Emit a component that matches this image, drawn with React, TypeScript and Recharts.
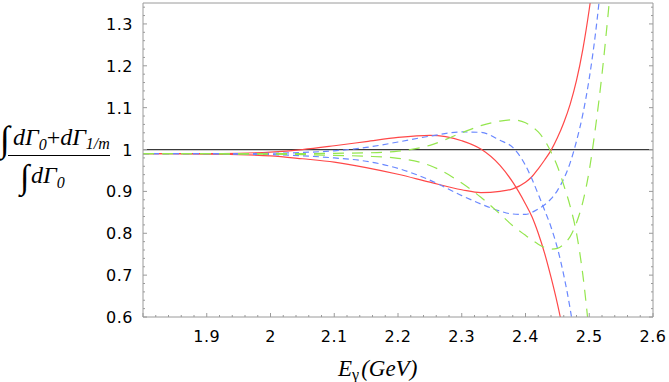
import React from 'react';
import { LineChart, Line, XAxis, YAxis, ReferenceLine } from 'recharts';

// x grid (E_gamma, GeV)
const xs = [1.80, 1.85, 1.90, 1.95, 2.00, 2.05, 2.10, 2.15, 2.20, 2.25, 2.30, 2.33, 2.36, 2.38, 2.40, 2.41, 2.42, 2.43, 2.44, 2.45, 2.46, 2.47, 2.48, 2.49, 2.50, 2.51, 2.52, 2.53, 2.54];

const redUpper = [0.990, 0.990, 0.990, 0.991, 0.994, 1.000, 1.009, 1.019, 1.029, 1.034, 1.021, 1.001, 0.962, 0.922, 0.870, 0.840, 0.800, 0.752, 0.695, 0.632, 0.560, null, null, null, null, null, null, null, null];
const redLower = [0.990, 0.990, 0.989, 0.988, 0.985, 0.978, 0.970, 0.957, 0.941, 0.922, 0.904, 0.897, 0.900, 0.906, 0.922, 0.935, 0.954, 0.975, 0.998, 1.028, 1.064, 1.108, 1.165, 1.240, 1.335, 1.450, null, null, null];
const blueUpper = [0.990, 0.990, 0.990, 0.990, 0.991, 0.993, 0.997, 1.005, 1.018, 1.032, 1.042, 1.041, 1.022, 1.005, 0.962, 0.930, 0.893, 0.855, 0.815, 0.765, 0.700, 0.620, 0.520, null, null, null, null, null, null];
const blueLower = [0.990, 0.990, 0.990, 0.989, 0.988, 0.985, 0.980, 0.972, 0.955, 0.927, 0.890, 0.870, 0.853, 0.846, 0.845, 0.850, 0.858, 0.868, 0.882, 0.902, 0.930, 0.968, 1.020, 1.085, 1.170, 1.280, 1.420, null, null];
const greenUpper = [0.990, 0.990, 0.990, 0.990, 0.990, 0.990, 0.991, 0.992, 0.996, 1.010, 1.040, 1.057, 1.068, 1.071, 1.064, 1.055, 1.042, 1.022, 0.994, 0.960, 0.915, 0.865, 0.800, 0.700, 0.560, null, null, null, null];
const greenLower = [0.990, 0.990, 0.990, 0.989, 0.989, 0.988, 0.986, 0.984, 0.979, 0.962, 0.920, 0.886, 0.846, 0.818, 0.795, 0.784, 0.774, 0.766, 0.762, 0.764, 0.774, 0.792, 0.825, 0.875, 0.950, 1.055, 1.180, 1.330, 1.500];

const xMajorTicks = [1.8, 1.9, 2.0, 2.1, 2.2, 2.3, 2.4, 2.5, 2.6];
const xTickLabels = ['', '1.9', '2', '2.1', '2.2', '2.3', '2.4', '2.5', '2.6'];
const yMajorTicks = [0.6, 0.7, 0.8, 0.9, 1.0, 1.1, 1.2, 1.3];
const yTickLabels = ['0.6', '0.7', '0.8', '0.9', '1', '1.1', '1.2', '1.3'];

const X_DOMAIN: [number, number] = [1.8, 2.6];
const Y_DOMAIN: [number, number] = [0.6, 1.35];

const xAllTicks: number[] = [];
for (let i = 0; i <= 40; i++) xAllTicks.push(Math.round((1.8 + i * 0.02) * 100) / 100);
const yAllTicks: number[] = [];
for (let i = 0; i <= 37; i++) yAllTicks.push(Math.round((0.6 + i * 0.02) * 100) / 100);

const toPoints = (ys: (number | null)[]) => xs.map((x, i) => ({ x, y: ys[i] }));

const FRAME = '#9a9a9a';
const MAJOR = 4;
const MINOR = 2;
const TICK_FONT = '"DejaVu Sans", Verdana, sans-serif';

const majorIndex = (v: number, majors: number[]) => majors.findIndex((m) => Math.abs(m - v) < 1e-6);

const BottomTick = (props: any) => {
  const { x, y, payload } = props;
  const idx = majorIndex(payload.value, xMajorTicks);
  const len = idx >= 0 ? MAJOR : MINOR;
  return (
    <g>
      <line x1={x} x2={x} y1={y} y2={y - len} stroke={FRAME} strokeWidth={1} />
      {idx >= 0 && xTickLabels[idx] !== '' && (
        <text x={x} y={y + 25} textAnchor="middle" fontFamily={TICK_FONT} fontSize={16} letterSpacing={0.5} fill="#000">
          {xTickLabels[idx]}
        </text>
      )}
    </g>
  );
};

const TopTick = (props: any) => {
  const { x, y, payload } = props;
  const idx = majorIndex(payload.value, xMajorTicks);
  const len = idx >= 0 ? MAJOR : MINOR;
  return <line x1={x} x2={x} y1={y} y2={y + len} stroke={FRAME} strokeWidth={1} />;
};

const LeftTick = (props: any) => {
  const { x, y, payload } = props;
  const idx = majorIndex(payload.value, yMajorTicks);
  const len = idx >= 0 ? MAJOR : MINOR;
  return (
    <g>
      <line x1={x} x2={x + len} y1={y} y2={y} stroke={FRAME} strokeWidth={1} />
      {idx >= 0 && (
        <text x={x - 10} y={y + 6} textAnchor="end" fontFamily={TICK_FONT} fontSize={16} letterSpacing={0.5} fill="#000">
          {yTickLabels[idx]}
        </text>
      )}
    </g>
  );
};

const RightTick = (props: any) => {
  const { x, y, payload } = props;
  const idx = majorIndex(payload.value, yMajorTicks);
  const len = idx >= 0 ? MAJOR : MINOR;
  return <line x1={x} x2={x - len} y1={y} y2={y} stroke={FRAME} strokeWidth={1} />;
};

const SERIF = '"Liberation Serif", "Times New Roman", serif';

export default function App() {
  return (
    <div style={{ position: 'absolute', left: 0, top: 0, width: 669, height: 382, background: '#fff' }}>
      <LineChart width={669} height={382} margin={{ top: 2, right: 15, bottom: 35, left: 113 }}>
        <XAxis
          xAxisId="bottom"
          dataKey="x"
          type="number"
          domain={X_DOMAIN}
          ticks={xAllTicks}
          interval={0}
          allowDataOverflow
          height={30}
          tickSize={0}
          tickMargin={0}
          tickLine={false}
          axisLine={{ stroke: FRAME }}
          tick={<BottomTick />}
        />
        <XAxis
          xAxisId="top"
          orientation="top"
          type="number"
          domain={X_DOMAIN}
          ticks={xAllTicks}
          interval={0}
          allowDataOverflow
          height={1}
          tickSize={0}
          tickMargin={0}
          tickLine={false}
          axisLine={{ stroke: FRAME }}
          tick={<TopTick />}
        />
        <YAxis
          yAxisId="left"
          type="number"
          domain={Y_DOMAIN}
          ticks={yAllTicks}
          interval={0}
          allowDataOverflow
          width={30}
          tickSize={0}
          tickMargin={0}
          tickLine={false}
          axisLine={{ stroke: FRAME }}
          tick={<LeftTick />}
        />
        <YAxis
          yAxisId="right"
          orientation="right"
          type="number"
          domain={Y_DOMAIN}
          ticks={yAllTicks}
          interval={0}
          allowDataOverflow
          width={1}
          tickSize={0}
          tickMargin={0}
          tickLine={false}
          axisLine={{ stroke: FRAME }}
          tick={<RightTick />}
        />
        <ReferenceLine xAxisId="bottom" yAxisId="left" y={1} stroke="#3a3a3a" strokeWidth={1.2} ifOverflow="hidden" />
        <Line xAxisId="bottom" yAxisId="left" data={toPoints(redUpper)} dataKey="y" type="monotone" stroke="#ff4848" strokeWidth={1.2} dot={false} isAnimationActive={false} />
        <Line xAxisId="bottom" yAxisId="left" data={toPoints(redLower)} dataKey="y" type="monotone" stroke="#ff4848" strokeWidth={1.2} dot={false} isAnimationActive={false} />
        <Line xAxisId="bottom" yAxisId="left" data={toPoints(blueUpper)} dataKey="y" type="monotone" stroke="#6a88ff" strokeWidth={1.2} strokeDasharray="6 4" dot={false} isAnimationActive={false} />
        <Line xAxisId="bottom" yAxisId="left" data={toPoints(blueLower)} dataKey="y" type="monotone" stroke="#6a88ff" strokeWidth={1.2} strokeDasharray="6 4" dot={false} isAnimationActive={false} />
        <Line xAxisId="bottom" yAxisId="left" data={toPoints(greenUpper)} dataKey="y" type="monotone" stroke="#94e64e" strokeWidth={1.2} strokeDasharray="11 8" dot={false} isAnimationActive={false} />
        <Line xAxisId="bottom" yAxisId="left" data={toPoints(greenLower)} dataKey="y" type="monotone" stroke="#94e64e" strokeWidth={1.2} strokeDasharray="11 8" dot={false} isAnimationActive={false} />
      </LineChart>
      <svg width={669} height={382} style={{ position: 'absolute', left: 0, top: 0, pointerEvents: 'none' }}>
        {/* y-axis label: fraction */}
        <text x={0} y={151} fontFamily={SERIF} fontSize={36} fill="#000">∫</text>
        <text x={13} y={145} fontFamily={SERIF} fontStyle="italic" fontSize={24} fill="#000">
          dΓ<tspan fontSize={16} dy={5}>0</tspan>
          <tspan fontSize={24} dy={-5} fontStyle="normal">+</tspan>
          <tspan fontSize={24}>dΓ</tspan>
          <tspan fontSize={16} dy={4}>1/m</tspan>
        </text>
        <line x1={8} x2={110} y1={155.5} y2={155.5} stroke="#000" strokeWidth={1} />
        <text x={20} y={188} fontFamily={SERIF} fontSize={34} fill="#000">∫</text>
        <text x={31} y={183} fontFamily={SERIF} fontStyle="italic" fontSize={24} fill="#000">
          dΓ<tspan fontSize={16} dy={5}>0</tspan>
        </text>
        {/* x-axis label */}
        <text x={338} y={376} fontFamily={SERIF} fontStyle="italic" fontSize={23} fill="#000">
          E<tspan fontSize={16} dy={4} fontStyle="normal">γ</tspan>
          <tspan fontSize={23} dy={-4} dx={2}>(GeV)</tspan>
        </text>
      </svg>
    </div>
  );
}
